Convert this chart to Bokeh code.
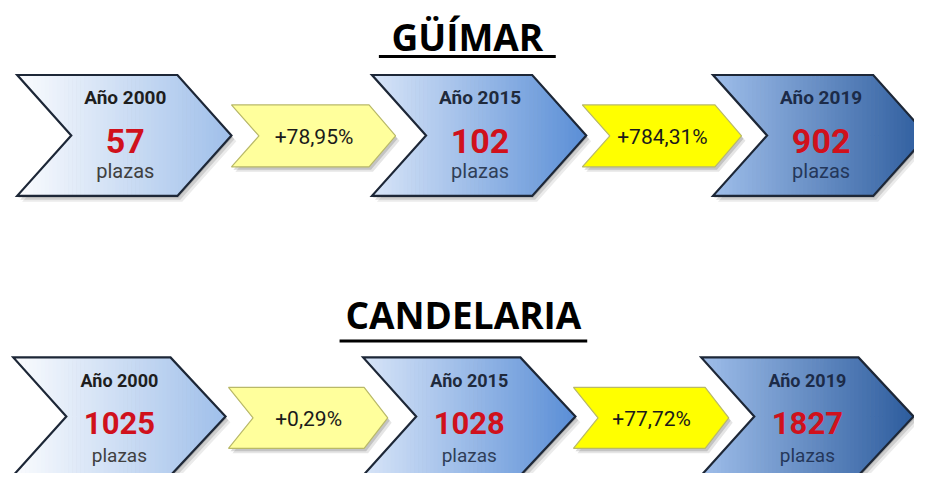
from bokeh.plotting import figure
from bokeh.models import Range1d, ColumnDataSource
from bokeh.core.properties import value
from bokeh.embed import file_html
from bokeh.resources import INLINE

# ---------------- data ----------------
municipios = ["GÜÍMAR", "CANDELARIA"]
anios = ["Año 2000", "Año 2015", "Año 2019"]
plazas_guimar = [57, 102, 902]
plazas_candelaria = [1025, 1028, 1827]
var_guimar = ["+78,95%", "+784,31%"]
var_candelaria = ["+0,29%", "+77,72%"]
unidad = "plazas"

# ---------------- layout / style ----------------
W, H = 914, 473
REF_W, REF_H = 930, 489
LABEL_FONT = "Roboto, 'Liberation Sans', sans-serif"
TITLE_FONT = "'Open Sans', sans-serif"
K = 0.38  # correction between requested and drawn alphabetic baseline (fraction of size)

rows = [
    dict(title_y=51, title_x=475, ul_y=58, ul_half=90, title_size=37,
         top=77, h=125, x0=[17, 378, 725], body=163, notch=55, tip=55,
         ytop=108, yh=64, yx0=[235, 592], ybody=[140, 135], ynotch=28, ytip=27,
         num_size=34, lab_size=19, pl_size=20, pct_size=21,
         d_lab=30, d_num=81, d_pl=107, d_pct=9),
    dict(title_y=339, title_x=471, ul_y=352, ul_half=126, title_size=37,
         top=369, h=122, x0=[13, 369, 713], body=160, notch=54, tip=56,
         ytop=400, yh=63, yx0=[232, 583], ybody=[138, 134], ynotch=25, ytip=24,
         num_size=31, lab_size=18, pl_size=19, pct_size=21,
         d_lab=31, d_num=80, d_pl=109, d_pct=9),
]
values = [plazas_guimar, plazas_candelaria]
variations = [var_guimar, var_candelaria]

grad = [("#fbfcfe", "#9fbfea"), ("#d8e5f8", "#5a8ed6"), ("#9fbeea", "#2d5c9d")]
yellow_fill = ["#ffff9c", "#ffff00"]
lab_col = ["#1e1e1e", "#1f2a3c", "#1c2b48"]
pl_col = ["#404040", "#2f3e58", "#24375a"]
num_col = "#d0111c"


def hex2rgb(h):
    h = h.lstrip("#")
    return tuple(int(h[i:i + 2], 16) for i in (0, 2, 4))


def mix(c1, c2, t):
    a, b = hex2rgb(c1), hex2rgb(c2)
    return "#%02x%02x%02x" % tuple(int(round(a[i] + (b[i] - a[i]) * t)) for i in range(3))


def chevron(x0, top, h, body, notch, tip):
    yc = top + h / 2.0
    return [(x0, top), (x0 + body, top), (x0 + body + tip, yc),
            (x0 + body, top + h), (x0, top + h), (x0 + notch, yc)]


def chevron_halves(x0, top, h, body, notch, tip):
    yc = top + h / 2.0
    upper = [(x0, top), (x0 + body, top), (x0 + body + tip, yc + 0.4), (x0 + notch, yc + 0.4)]
    lower = [(x0 + notch, yc - 0.4), (x0 + body + tip, yc - 0.4), (x0 + body, top + h), (x0, top + h)]
    return [upper, lower]


def clip(poly, inside, inter):
    out = []
    n = len(poly)
    for i in range(n):
        cur, prev = poly[i], poly[i - 1]
        if inside(cur):
            if not inside(prev):
                out.append(inter(prev, cur))
            out.append(cur)
        elif inside(prev):
            out.append(inter(prev, cur))
    return out


def ix(x):
    return lambda p, q: (x, p[1] + (q[1] - p[1]) * (x - p[0]) / (q[0] - p[0]))


def slab(poly, xa, xb):
    r = clip(poly, lambda p: p[0] >= xa, ix(xa))
    if r:
        r = clip(r, lambda p: p[0] <= xb, ix(xb))
    return r


def ty(baseline, size):
    return baseline - K * size


p = figure(width=W, height=H, output_backend="svg", toolbar_location=None,
           x_range=Range1d(0, REF_W), y_range=Range1d(REF_H, 0),
           x_axis_location=None, y_axis_location=None, min_border=0)
p.grid.visible = False
p.outline_line_color = None
p.background_fill_color = "white"
p.border_fill_color = "white"

for r, row in enumerate(rows):
    # title with underline
    p.text(x=[row["title_x"]], y=[ty(row["title_y"], row["title_size"])], text=[municipios[r]],
           text_font=value(TITLE_FONT), text_font_style="bold",
           text_font_size="%dpx" % row["title_size"],
           text_align="center", text_baseline="alphabetic", text_color="#000000")
    p.segment(x0=[row["title_x"] - row["ul_half"]], x1=[row["title_x"] + row["ul_half"]],
              y0=[row["ul_y"]], y1=[row["ul_y"]], line_color="#000000", line_width=3)

    # yellow variation chevrons
    for k in range(2):
        poly = chevron(row["yx0"][k], row["ytop"], row["yh"], row["ybody"][k], row["ynotch"], row["ytip"])
        for dx, dy, a in [(4, 5, 0.10), (2, 3, 0.15)]:
            p.patch([q[0] + dx for q in poly], [q[1] + dy for q in poly],
                    fill_color="#000000", fill_alpha=a, line_color=None)
        p.patch([q[0] for q in poly], [q[1] for q in poly], fill_color=yellow_fill[k],
                line_color="#b9b968", line_width=1.2)
        yc = row["ytop"] + row["yh"] / 2.0
        cx = row["yx0"][k] + (row["ybody"][k] + row["ynotch"]) / 2.0
        p.text(x=[cx], y=[ty(yc + row["d_pct"], row["pct_size"])], text=[variations[r][k]],
               text_font=value(LABEL_FONT),
               text_font_size="%dpx" % row["pct_size"], text_align="center",
               text_baseline="alphabetic", text_color="#1a1a1a")

    # blue gradient chevrons
    for i in range(3):
        x0 = row["x0"][i]
        args = (x0, row["top"], row["h"], row["body"], row["notch"], row["tip"])
        poly = chevron(*args)
        for dx, dy, a in [(5, 6, 0.08), (3, 4, 0.12), (1, 2, 0.15)]:
            p.patch([q[0] + dx for q in poly], [q[1] + dy for q in poly],
                    fill_color="#000000", fill_alpha=a, line_color=None)
        xs_l, ys_l, cols = [], [], []
        xend = x0 + row["body"] + row["tip"]
        step = 4.0
        for half in chevron_halves(*args):
            xa = float(x0)
            while xa < xend:
                xb = min(xa + step, xend)
                sp = slab(half, xa, xb + 0.6)
                if len(sp) >= 3:
                    xs_l.append([q[0] for q in sp])
                    ys_l.append([q[1] for q in sp])
                    t = ((xa + xb) / 2.0 - x0) / (xend - x0)
                    cols.append(mix(grad[i][0], grad[i][1], t))
                xa = xb
        src = ColumnDataSource(dict(xs=xs_l, ys=ys_l, c=cols))
        p.patches("xs", "ys", source=src, fill_color="c", line_color=None)
        p.patch([q[0] for q in poly], [q[1] for q in poly], fill_alpha=0,
                line_color="#1d2737", line_width=2.2, line_join="miter")

        cx = x0 + (row["body"] + row["notch"]) / 2.0 + 1
        top = row["top"]
        p.text(x=[cx], y=[ty(top + row["d_lab"], row["lab_size"])], text=[anios[i]],
               text_font=value(LABEL_FONT),
               text_font_style="bold", text_font_size="%dpx" % row["lab_size"],
               text_align="center", text_baseline="alphabetic", text_color=lab_col[i])
        p.text(x=[cx], y=[ty(top + row["d_num"], row["num_size"])], text=[str(values[r][i])],
               text_font=value(LABEL_FONT),
               text_font_style="bold", text_font_size="%dpx" % row["num_size"],
               text_align="center", text_baseline="alphabetic", text_color=num_col)
        p.text(x=[cx], y=[ty(top + row["d_pl"], row["pl_size"])], text=[unidad],
               text_font=value(LABEL_FONT),
               text_font_size="%dpx" % row["pl_size"], text_align="center",
               text_baseline="alphabetic", text_color=pl_col[i])

open("out.html", "w").write(file_html(p, INLINE))
